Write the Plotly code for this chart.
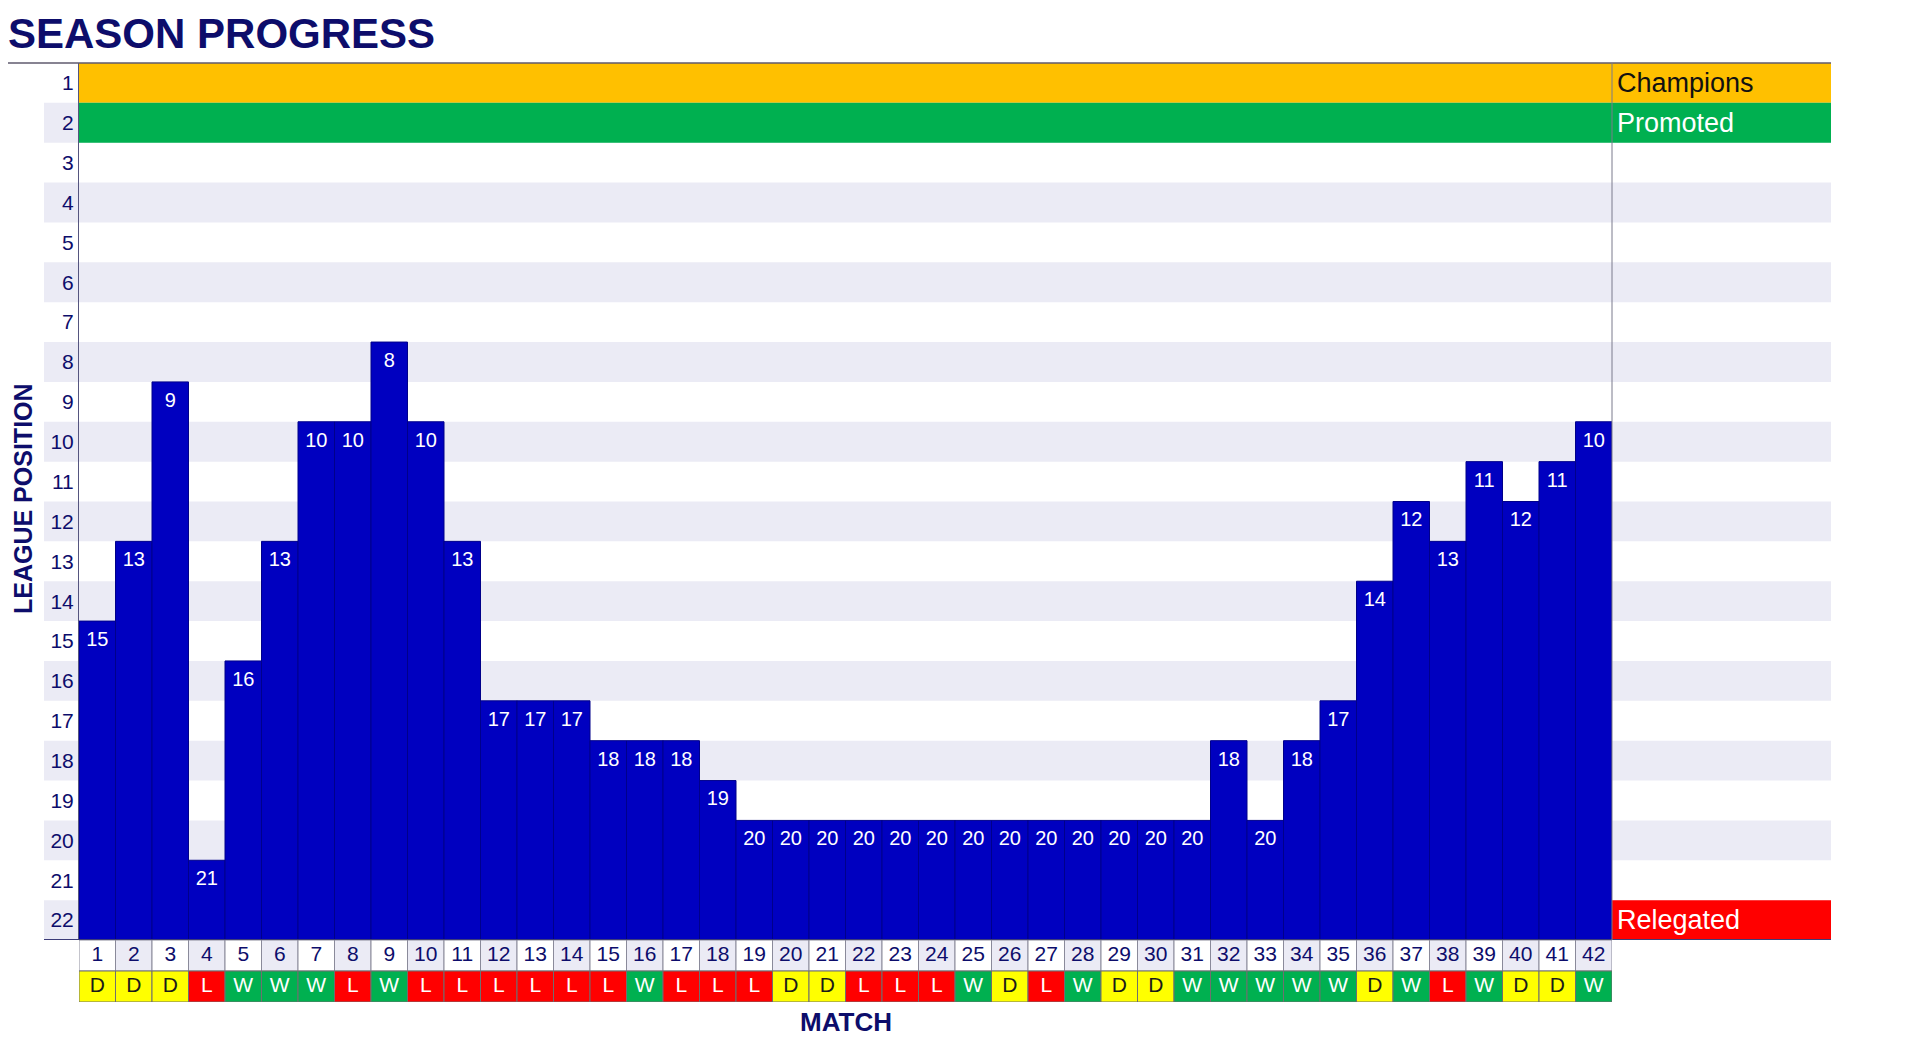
"""
Season progress chart: league position after each match plus result strip.
"""

import plotly.graph_objects as go

# ── data ────────────────────────────────────────────────────────────────
matches = list(range(1, 43))
positions = [
    15, 13, 9, 21, 16, 13, 10, 10, 8, 10, 13, 17, 17, 17, 18, 18, 18, 19,
    20, 20, 20, 20, 20, 20, 20, 20, 20, 20, 20, 20, 20, 18, 20, 18, 17, 14,
    12, 13, 11, 12, 11, 10,
]
results = [
    "D", "D", "D", "L", "W", "W", "W", "L", "W", "L", "L", "L", "L", "L",
    "L", "W", "L", "L", "L", "D", "D", "L", "L", "L", "W", "D", "L", "W",
    "D", "D", "W", "W", "W", "W", "W", "D", "W", "L", "W", "D", "D", "W",
]
league_rows = list(range(1, 23))
zone_names = ["Champions", "Promoted", "Relegated"]
zone_rows = [1, 2, 22]

# ── style ───────────────────────────────────────────────────────────────
NAVY = "#0d0d6b"
BAR_BLUE = "#0000c0"
SHADE = "#ebebf5"
ZONE_COLORS = {"Champions": "#ffc000", "Promoted": "#00b050", "Relegated": "#ff0000"}
ZONE_TEXT = {"Champions": "#111111", "Promoted": "#ffffff", "Relegated": "#ffffff"}
RESULT_COLORS = {"W": "#00b050", "D": "#ffff00", "L": "#ff0000"}
RESULT_TEXT = {"W": "#ffffff", "D": "#1a1a1a", "L": "#ffffff"}
FONT = "Liberation Sans, Arial, sans-serif"

# page pixel positions; the page body adds an 8px margin round the figure
PAGE_OFFSET = 8
W, H = 1920 - PAGE_OFFSET, 1041 - PAGE_OFFSET
PLOT_L, PLOT_R, PLOT_T, PLOT_B = 79, 1612, 63, 1002
MAIN_BOTTOM = 940
BAND_LEFT, BAND_RIGHT = 44, 1831


def px_x(x):
    return (x - PLOT_L) / (PLOT_R - PLOT_L)


def px_y(y):
    return (PLOT_B - y) / (PLOT_B - PLOT_T)


table_split = px_y(MAIN_BOTTOM)

fig = (
    go.Figure()
    # league position bars, grown up from the bottom of the table
    .add_trace(
        go.Bar(
            x=matches,
            y=[p - 23 for p in positions],
            base=22.5,
            width=1,
            marker=dict(color=BAR_BLUE, line=dict(color="#00008a", width=1)),
            hoverinfo="skip",
        )
    )
    .add_trace(
        go.Scatter(
            x=matches,
            y=positions,
            mode="text",
            text=[str(p) for p in positions],
            textfont=dict(family=FONT, size=20, color="#ffffff"),
            hoverinfo="skip",
        )
    )
    # match number strip
    .add_trace(
        go.Bar(
            x=matches,
            y=[1] * len(matches),
            base=0,
            width=1,
            yaxis="y2",
            marker=dict(
                color=["#ffffff" if m % 2 else SHADE for m in matches],
                line=dict(color="#8a8a9a", width=1),
            ),
            hoverinfo="skip",
        )
    )
    .add_trace(
        go.Scatter(
            x=matches,
            y=[0.5] * len(matches),
            yaxis="y2",
            mode="text",
            text=[str(m) for m in matches],
            textfont=dict(family=FONT, size=21, color=NAVY),
            hoverinfo="skip",
        )
    )
    # result strip
    .add_trace(
        go.Bar(
            x=matches,
            y=[1] * len(matches),
            base=1,
            width=1,
            yaxis="y2",
            marker=dict(
                color=[RESULT_COLORS[r] for r in results],
                line=dict(color="#6f6f6f", width=1),
            ),
            hoverinfo="skip",
        )
    )
    .add_trace(
        go.Scatter(
            x=matches,
            y=[1.5] * len(matches),
            yaxis="y2",
            mode="text",
            text=results,
            textfont=dict(family=FONT, size=21, color=[RESULT_TEXT[r] for r in results]),
            hoverinfo="skip",
        )
    )
)

# alternating row shading (even rows), extending under the tick labels
for r in league_rows:
    if r % 2 == 0:
        fig.add_shape(
            type="rect", layer="below", xref="paper", yref="y",
            x0=px_x(BAND_LEFT), x1=px_x(BAND_RIGHT), y0=r - 0.5, y1=r + 0.5,
            fillcolor=SHADE, line_width=0,
        )

# champions / promoted / relegated zones with their labels
for name, r in zip(zone_names, zone_rows):
    fig.add_shape(
        type="rect", layer="below", xref="paper", yref="y",
        x0=0, x1=px_x(BAND_RIGHT), y0=r - 0.5, y1=r + 0.5,
        fillcolor=ZONE_COLORS[name], line_width=0,
    )
    fig.add_annotation(
        text=name, xref="paper", yref="y", x=px_x(1615), y=r,
        xanchor="left", yanchor="middle", showarrow=False,
        font=dict(family=FONT, size=27, color=ZONE_TEXT[name]),
    )

# frame lines
fig.add_shape(
    type="line", xref="paper", yref="paper",
    x0=px_x(PAGE_OFFSET), x1=px_x(BAND_RIGHT), y0=1, y1=1,
    line=dict(color="#5f5a6e", width=1.5),
)
fig.add_shape(
    type="line", xref="paper", yref="y",
    x0=px_x(BAND_LEFT), x1=px_x(BAND_RIGHT), y0=22.5, y1=22.5,
    line=dict(color="#3c3c78", width=2),
)
fig.add_shape(
    type="line", xref="paper", yref="y",
    x0=1, x1=1, y0=0.5, y1=22.5,
    line=dict(color="#7a7a8c", width=1),
)

# titles
fig.add_annotation(
    text="<b>SEASON PROGRESS</b>", xref="paper", yref="paper",
    x=px_x(6), y=px_y(33), xanchor="left", yanchor="middle", showarrow=False,
    font=dict(family=FONT, size=42, color=NAVY),
)
fig.add_annotation(
    text="<b>LEAGUE POSITION</b>", xref="paper", yref="paper",
    x=px_x(23), y=px_y(499), xanchor="center", yanchor="middle", showarrow=False,
    textangle=-90, font=dict(family=FONT, size=25, color=NAVY),
)
fig.add_annotation(
    text="<b>MATCH</b>", xref="paper", yref="paper",
    x=px_x(846), y=px_y(1022), xanchor="center", yanchor="middle", showarrow=False,
    font=dict(family=FONT, size=26, color=NAVY),
)

fig.update_layout(
    width=W,
    height=H,
    margin=dict(
        l=PLOT_L - PAGE_OFFSET,
        r=W - (PLOT_R - PAGE_OFFSET),
        t=PLOT_T - PAGE_OFFSET,
        b=H - (PLOT_B - PAGE_OFFSET),
        autoexpand=False,
    ),
    paper_bgcolor="#ffffff",
    plot_bgcolor="rgba(0,0,0,0)",
    barmode="overlay",
    showlegend=False,
    xaxis=dict(
        range=[0.5, 42.5], visible=False, showgrid=False, zeroline=False,
        automargin=False, anchor="y2",
    ),
    yaxis=dict(
        domain=[table_split, 1], range=[22.5, 0.5], tickvals=league_rows,
        ticks="", showgrid=False, zeroline=False, automargin=False,
        showline=True, linecolor="#55557f", linewidth=1,
        tickfont=dict(family=FONT, size=21, color=NAVY),
    ),
    yaxis2=dict(
        domain=[0, table_split], range=[2, 0], visible=False,
        showgrid=False, zeroline=False, automargin=False,
    ),
)

fig.write_html("out.html")
